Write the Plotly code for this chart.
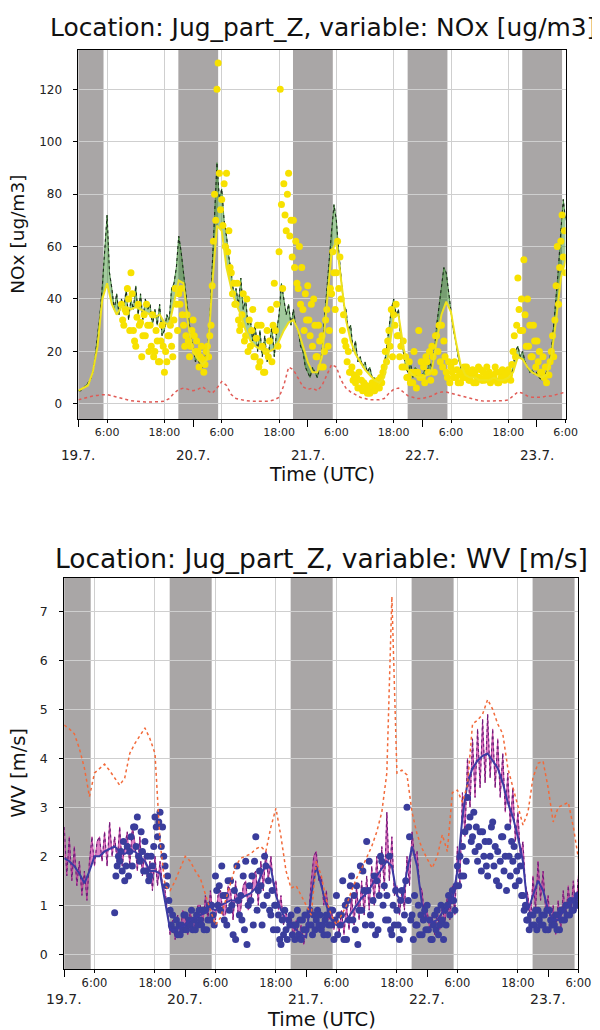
import pandas as pd
import plotly.graph_objects as go

START = pd.Timestamp("2019-07-19 00:00")
X_END = pd.Timestamp("2019-07-23 06:00")
FONT = "DejaVu Sans"

# ---------------- NOx [ug/m3] ----------------
# hourly model (smooth yellow line), 19.7 00:00 .. 23.7 06:00
nox_model_hourly = [
    5, 6, 7, 12, 22, 40, 46, 38, 34, 37, 37, 36,
    37, 36, 35, 34, 33, 34, 31, 30, 38, 47, 46, 30,
    20, 17, 15, 17, 45, 68, 66, 52, 44, 38, 34, 28,
    24, 22, 21, 20, 20, 21, 24, 28, 31, 32, 28, 22,
    16, 12, 12, 18, 38, 58, 62, 48, 32, 24, 19, 16,
    13, 11, 9, 8, 10, 20, 33, 34, 22, 13, 11, 10,
    10, 11, 13, 24, 34, 39, 35, 24, 15, 11, 10, 10,
    9, 9, 9, 10, 9, 9, 10, 12, 18, 17, 14, 12,
    11, 10, 11, 18, 32, 48, 55,
]
# 30-min model (dotted line with green spread)
nox_model_hf = [
    5, 5, 6, 7, 8, 9, 12, 18, 26, 34, 45, 60,
    72, 50, 44, 36, 42, 34, 40, 36, 44, 32, 40, 36,
    45, 34, 42, 32, 40, 36, 38, 30, 36, 30, 38, 26,
    28, 34, 32, 44, 46, 52, 64, 58, 50, 40, 32, 26,
    22, 16, 18, 14, 14, 18, 20, 32, 52, 70, 92, 78,
    82, 70, 64, 56, 50, 42, 44, 38, 48, 36, 40, 30,
    32, 24, 30, 20, 28, 18, 26, 16, 22, 30, 18, 28,
    34, 46, 40, 34, 38, 30, 36, 30, 28, 22, 20, 14,
    12, 10, 14, 12, 10, 14, 20, 32, 44, 56, 66, 76,
    70, 58, 48, 38, 36, 28, 30, 20, 24, 16, 18, 14,
    16, 12, 14, 10, 10, 8, 9, 11, 14, 22, 28, 36,
    40, 34, 36, 24, 20, 14, 12, 16, 10, 14, 12, 10,
    11, 13, 12, 16, 14, 20, 30, 38, 44, 52, 50, 42,
    36, 28, 24, 18, 14, 12, 11, 13, 10, 12, 11, 9,
    10, 8, 9, 11, 8, 10, 11, 9, 10, 8, 9, 11,
    12, 10, 14, 20, 22, 18, 20, 16, 14, 12, 13, 11,
    12, 10, 9, 11, 12, 16, 20, 30, 40, 52, 66, 78,
    70,
]
# observations every 15 min from 19.7 09:00
nox_obs_start = "2019-07-19 09:00"
nox_obs = [
    38, 32, 30, 36, 35, 44, 40, 28, 50, 42, 28, 24,
    22, 33, 38, 30, 31, 18, 26, 34, 26, 38, 30, 20,
    30, 22, 34, 18, 20, 28, 24, 16, 16, 24, 30, 22,
    12, 20, 16, 26, 26, 30, 22, 18, 32, 44, 38, 28,
    42, 38, 44, 34, 30, 22, 26, 34, 24, 18, 22, 28,
    32, 26, 20, 24, 20, 14, 18, 22, 17, 12, 15, 20,
    22, 18, 26, 30, 45, 62, 80, 70, 120, 130, 88, 74,
    78, 68, 84, 60, 88, 58, 66, 52, 50, 42, 46, 38,
    38, 46, 32, 28, 30, 34, 42, 24, 26, 40, 20, 32,
    22, 28, 36, 18, 18, 25, 30, 14, 16, 30, 22, 12,
    12, 20, 28, 18, 24, 36, 16, 30, 46, 28, 38, 22,
    58, 120, 76, 44, 84, 72, 66, 80, 88, 64, 70, 56,
    70, 52, 62, 46, 44, 60, 38, 52, 36, 28, 42, 32,
    45, 32, 26, 38, 22, 40, 30, 18, 18, 30, 24, 14,
    26, 14, 20, 32, 36, 22, 28, 44, 42, 58, 50, 36,
    50, 62, 44, 56, 40, 28, 34, 24, 22, 16, 20, 12,
    12, 14, 9, 11, 8, 10, 6, 12, 6, 9, 5, 8,
    5, 7, 4, 6, 4, 6, 8, 5, 5, 8, 6, 9,
    6, 10, 8, 12, 14, 20, 16, 24, 28, 22, 36, 18,
    34, 30, 38, 26, 26, 18, 22, 14, 24, 14, 18, 10,
    10, 16, 8, 12, 8, 20, 12, 6, 12, 28, 10, 16,
    10, 14, 8, 18, 16, 12, 20, 9, 22, 18, 12, 26,
    26, 20, 30, 16, 30, 14, 24, 18, 12, 10, 16, 8,
    14, 12, 10, 16, 10, 13, 8, 11, 8, 12, 10, 14,
    10, 14, 12, 9, 9, 11, 13, 8, 12, 8, 10, 14,
    10, 13, 9, 12, 9, 11, 14, 10, 12, 8, 11, 9,
    10, 14, 12, 8, 8, 12, 10, 13, 10, 9, 12, 11,
    13, 11, 9, 15, 20, 26, 18, 30, 48, 36, 28, 40,
    28, 55, 34, 22, 40, 22, 30, 18, 18, 30, 24, 14,
    24, 16, 20, 12, 12, 18, 10, 14, 8, 14, 11, 16,
    20, 26, 18, 32, 45, 60, 38, 52, 62, 72, 56, 66,
    50,
]
# second model, hourly (red dotted)
nox_other_hourly = [
    1.5, 2, 2.5, 3, 3.2, 3.5, 3.5, 3, 2.5, 2, 1.5, 1.2,
    1, 0.8, 0.7, 0.7, 0.7, 0.8, 1, 2, 4, 5.5, 6, 5.5,
    5, 5.5, 6.5, 5, 4, 6, 8.5, 7, 3.5, 2, 1.5, 1.2,
    1, 1, 1, 1, 1, 1.5, 2.5, 7, 14, 13, 10, 6.5,
    5.5, 6, 5, 7, 11, 15, 14, 9, 6, 4.5, 3.5, 2.5,
    2, 1.5, 1.5, 1.5, 2, 4, 5.5, 6, 4.5, 3, 2.5, 2,
    2, 2.5, 3, 4, 4.5, 4.5, 4, 3.5, 3, 2.5, 2, 1.5,
    1.2, 1, 1, 1, 1, 1.2, 1.5, 3, 4.5, 4, 3, 2.5,
    2.5, 2.5, 3, 3, 3.5, 4, 4.5,
]

# ---------------- WV [m/s] ----------------
wv_model_hourly = [
    1.96, 1.9, 1.8, 1.65, 1.45, 1.7, 2.0, 2.0, 2.1, 2.15, 2.2, 2.1,
    2.05, 2.1, 2.1, 2.0, 1.9, 1.7, 1.7, 1.65, 1.1, 0.5, 0.5, 0.55,
    0.6, 0.7, 0.75, 0.8, 0.85, 0.95, 0.9, 1.0, 1.05, 1.1, 1.1, 1.15,
    1.2, 1.25, 1.35, 1.6, 1.85, 1.75, 1.2, 0.9, 0.7, 0.6, 0.5, 0.4,
    0.35, 1.2, 1.8, 1.4, 1.0, 0.7, 0.6, 0.6, 0.7, 0.85, 1.0, 1.15,
    1.25, 1.4, 1.6, 1.75, 1.9, 1.8, 1.2, 1.1, 1.7, 2.2, 1.8, 1.0,
    0.7, 0.65, 0.7, 0.85, 0.95, 1.1, 1.7, 2.8, 3.5, 3.8, 3.95, 4.05,
    4.1, 3.95, 3.8, 3.5, 3.1, 2.8, 2.4, 1.9, 0.9, 1.2, 1.5, 1.3,
    0.9, 0.7, 0.7, 0.9, 1.0, 1.1, 1.25,
]
wv_model_hf = [
    2.6, 1.6, 2.4, 1.5, 2.2, 1.4, 1.9, 1.2, 1.7, 1.1, 1.9, 2.4,
    1.8, 2.3, 2.4, 1.9, 2.5, 1.8, 2.7, 2.0, 2.4, 1.9, 2.6, 1.8,
    2.2, 2.5, 1.8, 2.6, 2.3, 1.7, 2.4, 1.6, 2.1, 1.5, 1.9, 1.3,
    2.0, 1.4, 1.9, 1.4, 1.3, 0.8, 0.4, 0.7, 0.3, 0.8, 0.4, 0.9,
    0.8, 0.4, 0.9, 0.5, 0.6, 1.0, 1.0, 0.6, 1.2, 0.7, 1.3, 0.8,
    0.7, 1.2, 1.3, 0.8, 0.8, 1.4, 1.3, 0.7, 1.5, 0.8, 0.9, 1.4,
    1.5, 0.9, 1.0, 1.6, 1.7, 1.0, 1.9, 1.3, 2.1, 1.5, 2.0, 1.4,
    1.5, 0.9, 1.2, 0.6, 0.9, 0.5, 0.8, 0.3, 0.7, 0.3, 0.6, 0.2,
    0.5, 0.8, 1.5, 2.0, 2.1, 1.5, 1.6, 1.0, 1.3, 0.7, 0.9, 0.5,
    0.8, 0.4, 0.9, 0.4, 1.0, 0.5, 1.2, 0.6, 1.4, 0.7, 1.5, 0.8,
    1.6, 0.9, 1.8, 1.0, 2.0, 1.2, 2.2, 1.3, 2.9, 1.5, 2.4, 1.2,
    1.4, 0.8, 1.3, 0.9, 2.0, 1.4, 2.5, 2.0, 2.1, 1.4, 1.3, 0.7,
    0.9, 0.5, 0.8, 0.4, 0.9, 0.5, 1.0, 0.6, 1.2, 0.7, 1.4, 0.8,
    2.2, 1.4, 3.3, 2.4, 4.0, 3.0, 4.4, 3.2, 4.6, 3.4, 4.8, 3.5,
    4.9, 3.6, 4.6, 3.4, 4.4, 3.2, 4.1, 2.9, 3.7, 2.6, 3.4, 2.3,
    2.9, 2.0, 2.3, 1.4, 1.2, 0.6, 1.6, 0.9, 1.9, 1.1, 1.7, 0.9,
    1.2, 0.5, 1.0, 0.4, 1.1, 0.5, 1.3, 0.7, 1.4, 0.8, 1.5, 0.9,
    1.6,
]
# observations every 15 min from 19.7 10:00
wv_obs_start = "2019-07-19 10:00"
wv_obs = [
    0.85, 1.6, 1.8, 2.0, 1.9, 2.1, 1.7, 2.3, 1.5, 1.8, 2.2, 1.6,
    2.1, 2.4, 1.8, 2.6, 2.6, 2.2, 2.8, 2.0, 1.9, 2.5, 2.1, 1.7,
    2.3, 1.7, 2.0, 1.5, 1.6, 2.0, 1.8, 2.2, 2.8, 2.6, 2.4, 2.7,
    2.9, 2.2, 2.6, 2.0, 1.8, 1.4, 1.6, 1.1, 0.9, 0.6, 0.8, 0.5,
    0.5, 0.7, 0.4, 0.6, 0.4, 0.6, 0.5, 0.8, 0.8, 0.5, 0.6, 0.7,
    0.6, 0.9, 0.5, 0.7, 0.5, 0.8, 0.6, 0.9, 0.7, 0.6, 0.9, 0.5,
    0.9, 0.5, 0.7, 1.0, 0.7, 1.0, 0.8, 0.6, 1.6, 1.3, 1.0, 1.4,
    0.9, 1.8, 1.2, 0.7, 1.2, 0.6, 1.5, 0.9, 1.5, 1.0, 0.4, 1.3,
    0.3, 1.8, 1.1, 0.8, 1.2, 0.7, 1.6, 0.5, 1.9, 0.2, 1.0, 1.4,
    1.1, 1.6, 0.6, 1.9, 2.4, 0.9, 1.3, 1.7, 1.4, 0.6, 1.0, 2.0,
    1.8, 1.2, 1.5, 0.9, 0.8, 1.3, 0.5, 1.0, 1.0, 0.5, 0.8, 0.3,
    0.2, 0.7, 0.4, 0.9, 0.5, 0.3, 0.7, 0.6, 0.8, 0.4, 0.6, 0.3,
    0.6, 0.9, 0.4, 0.7, 0.3, 0.7, 0.5, 0.8, 0.5, 0.8, 0.6, 0.9,
    0.6, 0.4, 0.8, 0.5, 0.7, 0.9, 0.6, 0.8, 0.5, 0.6, 0.4, 0.7,
    0.8, 0.4, 0.6, 0.9, 0.6, 0.9, 0.3, 0.7, 1.2, 0.4, 0.8, 0.6,
    0.8, 1.5, 0.3, 1.0, 0.3, 1.1, 0.7, 1.4, 1.6, 0.7, 1.2, 0.5,
    1.4, 0.2, 0.9, 1.8, 0.9, 1.7, 1.3, 0.6, 2.3, 1.3, 1.9, 0.8,
    0.6, 1.1, 1.6, 0.4, 1.5, 0.5, 1.2, 2.0, 1.9, 1.0, 1.4, 0.7,
    1.2, 0.7, 2.0, 0.5, 0.4, 1.0, 0.6, 1.3, 0.9, 0.6, 0.3, 1.1,
    1.3, 0.5, 0.8, 1.5, 3.0, 1.1, 2.4, 0.7, 0.8, 0.3, 1.2, 0.6,
    0.6, 1.0, 0.4, 0.8, 0.4, 0.7, 0.9, 0.5, 1.0, 0.5, 0.7, 0.3,
    0.3, 0.6, 0.8, 0.5, 0.9, 0.4, 0.6, 1.0, 0.7, 0.3, 0.9, 0.6,
    1.0, 1.2, 0.8, 1.1, 1.3, 1.1, 0.9, 1.4, 1.8, 1.4, 2.0, 1.6,
    2.2, 1.6, 2.5, 1.9, 3.2, 2.6, 2.8, 2.3, 2.4, 2.9, 2.1, 2.6,
    1.9, 2.2, 2.5, 1.7, 2.5, 2.0, 2.3, 1.8, 1.6, 2.3, 2.0, 2.6,
    2.7, 1.8, 2.2, 1.5, 2.1, 1.4, 1.9, 2.4, 2.4, 1.7, 2.0, 1.3,
    2.6, 2.0, 1.6, 2.3, 1.9, 2.2, 1.4, 1.7, 2.0, 1.5, 1.8, 1.2,
    1.2, 0.9, 1.0, 0.7, 0.7, 0.5, 0.8, 0.6, 0.8, 0.6, 0.9, 0.5,
    0.9, 0.7, 0.6, 0.8, 0.6, 0.8, 0.5, 0.9, 0.5, 0.9, 0.7, 0.6,
    0.7, 0.6, 0.8, 0.5, 0.8, 0.5, 0.9, 0.7, 0.9, 0.7, 1.0, 0.8,
    1.0, 0.8, 1.1, 0.9, 0.9, 1.1, 1.0, 1.2, 1.0,
]
wv_other_hourly = [
    4.68, 4.6, 4.5, 4.2, 3.8, 3.22, 3.7, 3.8, 3.88, 3.75, 3.6, 3.45,
    3.6, 4.1, 4.3, 4.45, 4.62, 4.4, 4.1, 2.3, 1.4, 1.3, 1.5, 1.75,
    2.0, 1.9, 1.7, 1.55, 1.2, 0.9, 0.6, 0.75, 1.1, 1.45, 1.8, 1.96,
    2.0, 2.05, 2.15, 2.2, 2.1, 2.6, 2.98, 2.4, 1.7, 1.35, 1.4, 1.2,
    1.0, 0.8, 1.9, 1.6, 1.1, 0.8, 0.6, 0.8, 1.0, 1.3, 1.55, 1.75,
    1.96, 2.2, 2.5, 2.9, 3.7, 7.3, 3.7, 3.76, 3.66, 2.9, 2.45, 2.16,
    1.95, 1.76, 2.0, 2.44, 2.1, 3.3, 3.35, 3.1, 3.46, 4.7, 4.78, 4.9,
    5.2, 5.0, 4.7, 4.5, 3.8, 3.4, 3.0, 2.64, 2.9, 3.6, 3.9, 3.94,
    3.4, 2.7, 3.0, 3.05, 3.1, 2.6, 1.96,
]

# night periods (grey bands)
night_start = ["2019-07-18 20:55", "2019-07-19 20:55", "2019-07-20 20:55",
               "2019-07-21 20:55", "2019-07-22 20:55"]
night_end = ["2019-07-19 05:15", "2019-07-20 05:15", "2019-07-21 05:15",
             "2019-07-22 05:15", "2019-07-23 05:15"]

hour_tick_vals = pd.date_range("2019-07-19 06:00", X_END, freq="12h")
hour_tick_text = ["6:00", "18:00", "6:00", "18:00", "6:00", "18:00", "6:00", "18:00", "6:00"]
day_vals = pd.date_range("2019-07-19", "2019-07-23", freq="D")
day_text = ["19.7.", "20.7.", "21.7.", "22.7.", "23.7."]


def t_h(vals, start=START):
    return pd.date_range(start, periods=len(vals), freq="h")


def t_30(vals, start=START):
    return pd.date_range(start, periods=len(vals), freq="30min")


def t_15(vals, start=START):
    return pd.date_range(start, periods=len(vals), freq="15min")


fig = go.Figure()

# ---- top panel ----
fig.add_trace(go.Scatter(x=t_h(nox_model_hourly), y=nox_model_hourly, mode="lines",
                         line=dict(width=0, color="rgba(0,0,0,0)"), hoverinfo="skip",
                         showlegend=False, xaxis="x", yaxis="y"))
fig.add_trace(go.Scatter(x=t_30(nox_model_hf), y=nox_model_hf, mode="lines",
                         fill="tonexty", fillcolor="rgba(70,150,60,0.5)",
                         line=dict(width=0.8, color="#3c8a35"), showlegend=False,
                         xaxis="x", yaxis="y"))
fig.add_trace(go.Scatter(x=t_30(nox_model_hf), y=nox_model_hf, mode="lines",
                         line=dict(width=1.1, color="#1e2a1e", dash="dot"), showlegend=False,
                         xaxis="x", yaxis="y"))
fig.add_trace(go.Scatter(x=t_15(nox_obs, nox_obs_start), y=nox_obs, mode="markers",
                         marker=dict(size=7, color="#f7e100"), showlegend=False,
                         xaxis="x", yaxis="y"))
fig.add_trace(go.Scatter(x=t_h(nox_model_hourly), y=nox_model_hourly, mode="lines",
                         line=dict(width=2, color="#efe21c"), showlegend=False,
                         xaxis="x", yaxis="y"))
fig.add_trace(go.Scatter(x=t_h(nox_other_hourly), y=nox_other_hourly, mode="lines",
                         line=dict(width=1.5, color="#e05a55", dash="dot"), showlegend=False,
                         xaxis="x", yaxis="y"))

# ---- bottom panel ----
fig.add_trace(go.Scatter(x=t_h(wv_model_hourly), y=wv_model_hourly, mode="lines",
                         line=dict(width=0, color="rgba(0,0,0,0)"), hoverinfo="skip",
                         showlegend=False, xaxis="x2", yaxis="y2"))
fig.add_trace(go.Scatter(x=t_30(wv_model_hf), y=wv_model_hf, mode="lines",
                         fill="tonexty", fillcolor="rgba(200,50,160,0.6)",
                         line=dict(width=0.8, color="#c2309a"), showlegend=False,
                         xaxis="x2", yaxis="y2"))
fig.add_trace(go.Scatter(x=t_30(wv_model_hf), y=wv_model_hf, mode="lines",
                         line=dict(width=1.1, color="#6a1f78", dash="dot"), showlegend=False,
                         xaxis="x2", yaxis="y2"))
fig.add_trace(go.Scatter(x=t_15(wv_obs, wv_obs_start), y=wv_obs, mode="markers",
                         marker=dict(size=7, color="#3a3d9c"), showlegend=False,
                         xaxis="x2", yaxis="y2"))
fig.add_trace(go.Scatter(x=t_h(wv_model_hourly), y=wv_model_hourly, mode="lines",
                         line=dict(width=2, color="#3b3ba3"), showlegend=False,
                         xaxis="x2", yaxis="y2"))
fig.add_trace(go.Scatter(x=t_h(wv_other_hourly), y=wv_other_hourly, mode="lines",
                         line=dict(width=1.5, color="#f26a3a", dash="dot"), showlegend=False,
                         xaxis="x2", yaxis="y2"))

shapes = []
for xr, yr in (("x", "y domain"), ("x2", "y2 domain")):
    for s, e in zip(night_start, night_end):
        shapes.append(dict(type="rect", xref=xr, yref=yr, x0=s, x1=e, y0=0, y1=1,
                           fillcolor="#a9a6a6", line=dict(width=0), layer="below"))

GRID = "#cfcfcf"


def xaxis_cfg(domain, anchor, fs):
    return dict(domain=domain, anchor=anchor, type="date", range=[START, X_END],
                tickmode="array", tickvals=hour_tick_vals, ticktext=hour_tick_text,
                ticks="outside", ticklen=3, tickcolor="black",
                tickfont=dict(family=FONT, size=fs, color="#222"),
                showgrid=True, gridcolor=GRID, gridwidth=1.3, zeroline=False,
                showline=True, linecolor="black", linewidth=1, mirror=True,
                minor=dict(tickmode="array", tickvals=day_vals, ticks="outside", ticklen=7,
                           tickcolor="black", showgrid=False))


def yaxis_cfg(domain, anchor, rng, tv, fs):
    return dict(domain=domain, anchor=anchor, range=rng, tickmode="array", tickvals=tv,
                ticks="outside", ticklen=4, tickcolor="black", ticklabelstandoff=9,
                tickfont=dict(family=FONT, size=fs, color="#222"),
                showgrid=True, gridcolor=GRID, gridwidth=1.3, zeroline=False,
                showline=True, linecolor="black", linewidth=1, mirror=True)


annotations = []
# titles
annotations.append(dict(text="Location: Jug_part_Z, variable: NOx [ug/m3]", x=322 / 600,
                        y=1 - 20 / 1030, xref="paper", yref="paper", showarrow=False,
                        xanchor="center", yanchor="middle",
                        font=dict(family=FONT, size=24.9, color="#111")))
annotations.append(dict(text="Location: Jug_part_Z, variable: WV [m/s]", x=320 / 600,
                        y=1 - 550 / 1030, xref="paper", yref="paper", showarrow=False,
                        xanchor="center", yanchor="middle",
                        font=dict(family=FONT, size=26.5, color="#111")))
# y titles
annotations.append(dict(text="NOx [ug/m3]", x=10 / 600, y=1 - 226 / 1030, xref="paper",
                        yref="paper", showarrow=False, textangle=-90, xanchor="center",
                        yanchor="middle", font=dict(family=FONT, size=18.5, color="#111")))
annotations.append(dict(text="WV [m/s]", x=10 / 600, y=1 - 765 / 1030, xref="paper",
                        yref="paper", showarrow=False, textangle=-90, xanchor="center",
                        yanchor="middle", font=dict(family=FONT, size=19.5, color="#111")))
# x titles
annotations.append(dict(text="Time (UTC)", x=321 / 600, y=1 - 466 / 1030, xref="paper",
                        yref="paper", showarrow=False, xanchor="center", yanchor="middle",
                        font=dict(family=FONT, size=19, color="#111")))
annotations.append(dict(text="Time (UTC)", x=320 / 600, y=1 - 1011 / 1030, xref="paper",
                        yref="paper", showarrow=False, xanchor="center", yanchor="middle",
                        font=dict(family=FONT, size=19.5, color="#111")))
# date labels
for dv, dt in zip(day_vals, day_text):
    annotations.append(dict(text=dt, x=dv, y=1 - 447 / 1030, xref="x", yref="paper",
                            showarrow=False, xanchor="center", yanchor="middle",
                            font=dict(family=FONT, size=13.5, color="#222")))
    annotations.append(dict(text=dt, x=dv, y=1 - 991 / 1030, xref="x2", yref="paper",
                            showarrow=False, xanchor="center", yanchor="middle",
                            font=dict(family=FONT, size=14, color="#222")))

fig.update_layout(
    width=600, height=1030, margin=dict(l=0, r=0, t=0, b=0),
    paper_bgcolor="white", plot_bgcolor="white", showlegend=False,
    xaxis=xaxis_cfg([72 / 600, 570 / 600], "y", 11),
    yaxis=yaxis_cfg([1 - 411 / 1030, 1 - 42 / 1030], "x", [-5.8, 135],
                    [0, 20, 40, 60, 80, 100, 120], 12),
    xaxis2=xaxis_cfg([57.5 / 600, 583 / 600], "y2", 11.5),
    yaxis2=yaxis_cfg([1 - 961 / 1030, 1 - 570 / 1030], "x2", [-0.3, 7.68],
                     [0, 1, 2, 3, 4, 5, 6, 7], 12.5),
    shapes=shapes, annotations=annotations,
)

fig.write_html("out.html")
